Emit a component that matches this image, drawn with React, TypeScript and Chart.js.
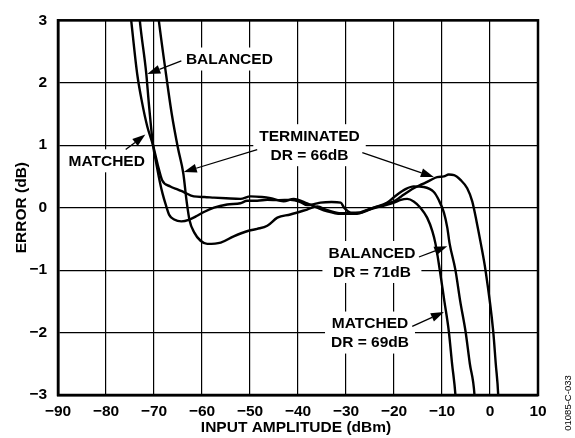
import React, { useEffect, useRef } from "react";
import { Chart, registerables } from "chart.js";

Chart.register(...registerables);

// ---- axis ticks ----
const xTickValues = [-90, -80, -70, -60, -50, -40, -30, -20, -10, 0, 10];
const yTickValues = [-3, -2, -1, 0, 1, 2, 3];

// ---- series: MATCHED ----
const matchedX = [-75.3, -74.75, -73.5, -72.5, -71.4, -70.2, -69.2, -68.3, -66.6, -65.0, -63.8, -61.7, -59.5, -57.5, -55.0, -52.0, -49.9, -47.5, -45.7, -43.0, -40.9, -38.1, -36.0, -33.9, -31.1, -27.7, -25.6, -22.8, -20.0, -18.6, -17.25, -15.9, -14.5, -13.1, -12.0, -11.35, -10.46, -9.5, -8.58, -7.9, -7.2, -7.05];
const matchedY = [3.4, 3.0, 2.14, 1.69, 1.3, 1.0, 0.68, 0.44, 0.34, 0.29, 0.25, 0.18, 0.17, 0.16, 0.15, 0.14, 0.18, 0.17, 0.15, 0.1, 0.14, 0.07, 0.0, -0.06, -0.1, -0.1, -0.04, 0.02, 0.08, 0.125, 0.14, 0.1, 0.0, -0.16, -0.38, -0.58, -1.0, -1.5, -1.98, -2.5, -3.0, -3.2];

// ---- series: BALANCED ----
const balancedX = [-73.4, -72.96, -71.6, -71.1, -70.2, -69.5, -68.8, -68.2, -67.6, -66.8, -65.8, -64.3, -62.6, -61.0, -59.6, -57.5, -54.75, -52.0, -50.6, -48.5, -46.4, -44.0, -41.6, -39.5, -38.1, -36.5, -35.3, -33.0, -31.1, -30.4, -29.0, -27.0, -24.2, -21.4, -19.5, -17.5, -15.9, -13.8, -11.7, -10.7, -9.6, -8.9, -8.4, -7.2, -6.2, -5.1, -4.2, -3.23, -3.1];
const balancedY = [3.4, 3.0, 2.14, 1.69, 1.0, 0.7, 0.42, 0.22, 0.06, -0.12, -0.19, -0.22, -0.19, -0.13, -0.07, 0.0, 0.05, 0.07, 0.11, 0.11, 0.125, 0.12, 0.125, 0.09, 0.04, 0.06, 0.08, 0.09, 0.08, 0.0, -0.08, -0.08, 0.0, 0.08, 0.2, 0.3, 0.34, 0.33, 0.25, 0.125, -0.08, -0.32, -0.58, -1.0, -1.5, -1.98, -2.5, -3.0, -3.2];

// ---- series: TERMINATED ----
const terminatedX = [-69.45, -69.0, -67.5, -66.3, -65.0, -63.9, -63.2, -62.6, -61.6, -60.3, -58.9, -56.1, -53.4, -50.3, -48.5, -46.4, -44.3, -41.6, -38.1, -36.0, -33.9, -31.0, -28.0, -25.0, -22.0, -20.0, -18.5, -15.9, -14.0, -12.4, -11.0, -9.6, -8.6, -7.5, -6.1, -4.75, -3.7, -2.8, -1.9, -0.94, 0.67, 1.2, 1.71, 1.8];
const terminatedY = [3.3, 3.0, 2.14, 1.5, 0.95, 0.55, 0.1, -0.2, -0.4, -0.53, -0.58, -0.56, -0.46, -0.37, -0.34, -0.29, -0.16, -0.11, -0.03, 0.02, -0.04, -0.09, -0.09, -0.02, 0.05, 0.1, 0.18, 0.31, 0.38, 0.44, 0.49, 0.5, 0.53, 0.52, 0.44, 0.31, 0.1, -0.22, -0.58, -1.0, -1.98, -2.5, -3.0, -3.2];

// ---- annotation texts ----
const noteLines = [
  ["BALANCED"],
  ["MATCHED"],
  ["TERMINATED", "DR = 66dB"],
  ["BALANCED", "DR = 71dB"],
  ["MATCHED", "DR = 69dB"],
];
// label centres in data units [x, y]
const noteCenters = [
  [-54.3, 2.38],
  [-79.85, 0.75],
  [-37.6, 1.0],
  [-24.6, -0.87],
  [-25.0, -2.0],
];
// arrows in data units [fromX, fromY, toX, toY]
const arrows = [
  [-64.3, 2.35, -71.4, 2.14],
  [-75.9, 0.93, -71.8, 1.17],
  [-48.5, 0.93, -63.8, 0.57],
  [-26.6, 0.88, -11.7, 0.49],
  [-14.8, -0.79, -8.9, -0.62],
  [-16.2, -1.9, -9.6, -1.67],
];

const xTitle = "INPUT AMPLITUDE (dBm)";
const yTitle = "ERROR (dB)";
const figCode = "01085-C-033";

const FONT = "'Liberation Sans', Arial, Helvetica, sans-serif";

function toPoints(xs: number[], ys: number[]) {
  return xs.map((x, i) => ({ x, y: ys[i] }));
}

function fmt(v: number) {
  return v < 0 ? "\u2212" + Math.abs(v) : String(v);
}

const overlayPlugin = {
  id: "overlay",
  beforeDatasetsDraw(chart: any) {
    const { ctx, scales } = chart;
    const xs = scales.x;
    const ys = scales.y;
    ctx.save();
    ctx.font = `bold 15.5px ${FONT}`;
    ctx.textAlign = "center";
    ctx.textBaseline = "middle";
    const lh = 19;
    noteLines.forEach((lines, i) => {
      const cx = xs.getPixelForValue(noteCenters[i][0]);
      const cy = ys.getPixelForValue(noteCenters[i][1]);
      const w = Math.max(...lines.map((l) => ctx.measureText(l).width));
      const h = lines.length * lh;
      ctx.fillStyle = "#fff";
      ctx.fillRect(cx - w / 2 - 6, cy - h / 2 - 2, w + 12, h + 4);
      ctx.fillStyle = "#000";
      lines.forEach((l, j) => {
        ctx.fillText(l, cx, cy - h / 2 + lh / 2 + j * lh + 1);
      });
    });
    ctx.restore();
  },
  afterDatasetsDraw(chart: any) {
    const { ctx, scales, chartArea } = chart;
    const xs = scales.x;
    const ys = scales.y;
    ctx.save();
    // frame
    ctx.strokeStyle = "#000";
    ctx.lineWidth = 2.5;
    ctx.strokeRect(chartArea.left, chartArea.top, chartArea.right - chartArea.left, chartArea.bottom - chartArea.top);
    // arrows
    arrows.forEach((a) => {
      const x1 = xs.getPixelForValue(a[0]);
      const y1 = ys.getPixelForValue(a[1]);
      const x2 = xs.getPixelForValue(a[2]);
      const y2 = ys.getPixelForValue(a[3]);
      const ang = Math.atan2(y2 - y1, x2 - x1);
      const L = 13;
      const W = 4.5;
      const bx = x2 - L * Math.cos(ang);
      const by = y2 - L * Math.sin(ang);
      ctx.lineWidth = 1.3;
      ctx.beginPath();
      ctx.moveTo(x1, y1);
      ctx.lineTo(bx, by);
      ctx.stroke();
      ctx.fillStyle = "#000";
      ctx.beginPath();
      ctx.moveTo(x2, y2);
      ctx.lineTo(bx + W * Math.sin(ang), by - W * Math.cos(ang));
      ctx.lineTo(bx - W * Math.sin(ang), by + W * Math.cos(ang));
      ctx.closePath();
      ctx.fill();
    });
    ctx.restore();
  },
  afterDraw(chart: any) {
    const { ctx, chartArea } = chart;
    ctx.save();
    ctx.fillStyle = "#000";
    ctx.font = `bold 15.5px ${FONT}`;
    ctx.textAlign = "center";
    ctx.textBaseline = "middle";
    ctx.fillText(xTitle, (chartArea.left + chartArea.right) / 2 - 2, 428);
    ctx.save();
    ctx.translate(21.5, (chartArea.top + chartArea.bottom) / 2);
    ctx.rotate(-Math.PI / 2);
    ctx.fillText(yTitle, 0, 0);
    ctx.restore();
    ctx.font = `9.5px ${FONT}`;
    ctx.translate(568, 403);
    ctx.rotate(-Math.PI / 2);
    ctx.fillText(figCode, 0, 0);
    ctx.restore();
  },
};

export default function App() {
  const ref = useRef<HTMLCanvasElement | null>(null);
  useEffect(() => {
    if (!ref.current) return;
    const ds = (xs: number[], ys: number[], label: string) => ({
      label,
      data: toPoints(xs, ys),
      borderColor: "#000",
      borderWidth: 2.4,
      pointRadius: 0,
      fill: false,
      cubicInterpolationMode: "monotone" as const,
    });
    const chart = new Chart(ref.current, {
      type: "line",
      data: {
        datasets: [
          ds(matchedX, matchedY, "MATCHED"),
          ds(balancedX, balancedY, "BALANCED"),
          ds(terminatedX, terminatedY, "TERMINATED"),
        ],
      },
      options: {
        animation: false,
        responsive: true,
        maintainAspectRatio: false,
        devicePixelRatio: 1,
        layout: { padding: { left: 0, right: 37, top: 11, bottom: 0 } },
        plugins: { legend: { display: false }, tooltip: { enabled: false } },
        scales: {
          x: {
            type: "linear",
            min: -90,
            max: 10,
            afterBuildTicks: (s: any) => {
              s.ticks = xTickValues.map((v) => ({ value: v }));
            },
            afterFit: (s: any) => {
              s.height = 43;
            },
            ticks: {
              padding: 7,
              color: "#000",
              font: { family: FONT, size: 15.5, weight: "bold" },
              callback: (v: any) => fmt(Number(v)),
              maxRotation: 0,
              autoSkip: false,
            },
            grid: { color: "#000", lineWidth: 1.2, drawTicks: false },
            border: { display: true, color: "#000", width: 2.5 },
          },
          y: {
            type: "linear",
            min: -3,
            max: 3,
            afterBuildTicks: (s: any) => {
              s.ticks = yTickValues.map((v) => ({ value: v }));
            },
            afterFit: (s: any) => {
              s.width = 58;
            },
            ticks: {
              padding: 11,
              color: "#000",
              font: { family: FONT, size: 15.5, weight: "bold" },
              callback: (v: any) => fmt(Number(v)),
              autoSkip: false,
            },
            grid: { color: "#000", lineWidth: 1.2, drawTicks: false },
            border: { display: true, color: "#000", width: 2.5 },
          },
        },
      },
      plugins: [overlayPlugin],
    });
    return () => chart.destroy();
  }, []);
  return (
    <div style={{ position: "fixed", left: 0, top: 0, width: 575, height: 438, background: "#fff" }}>
      <canvas ref={ref} />
    </div>
  );
}
